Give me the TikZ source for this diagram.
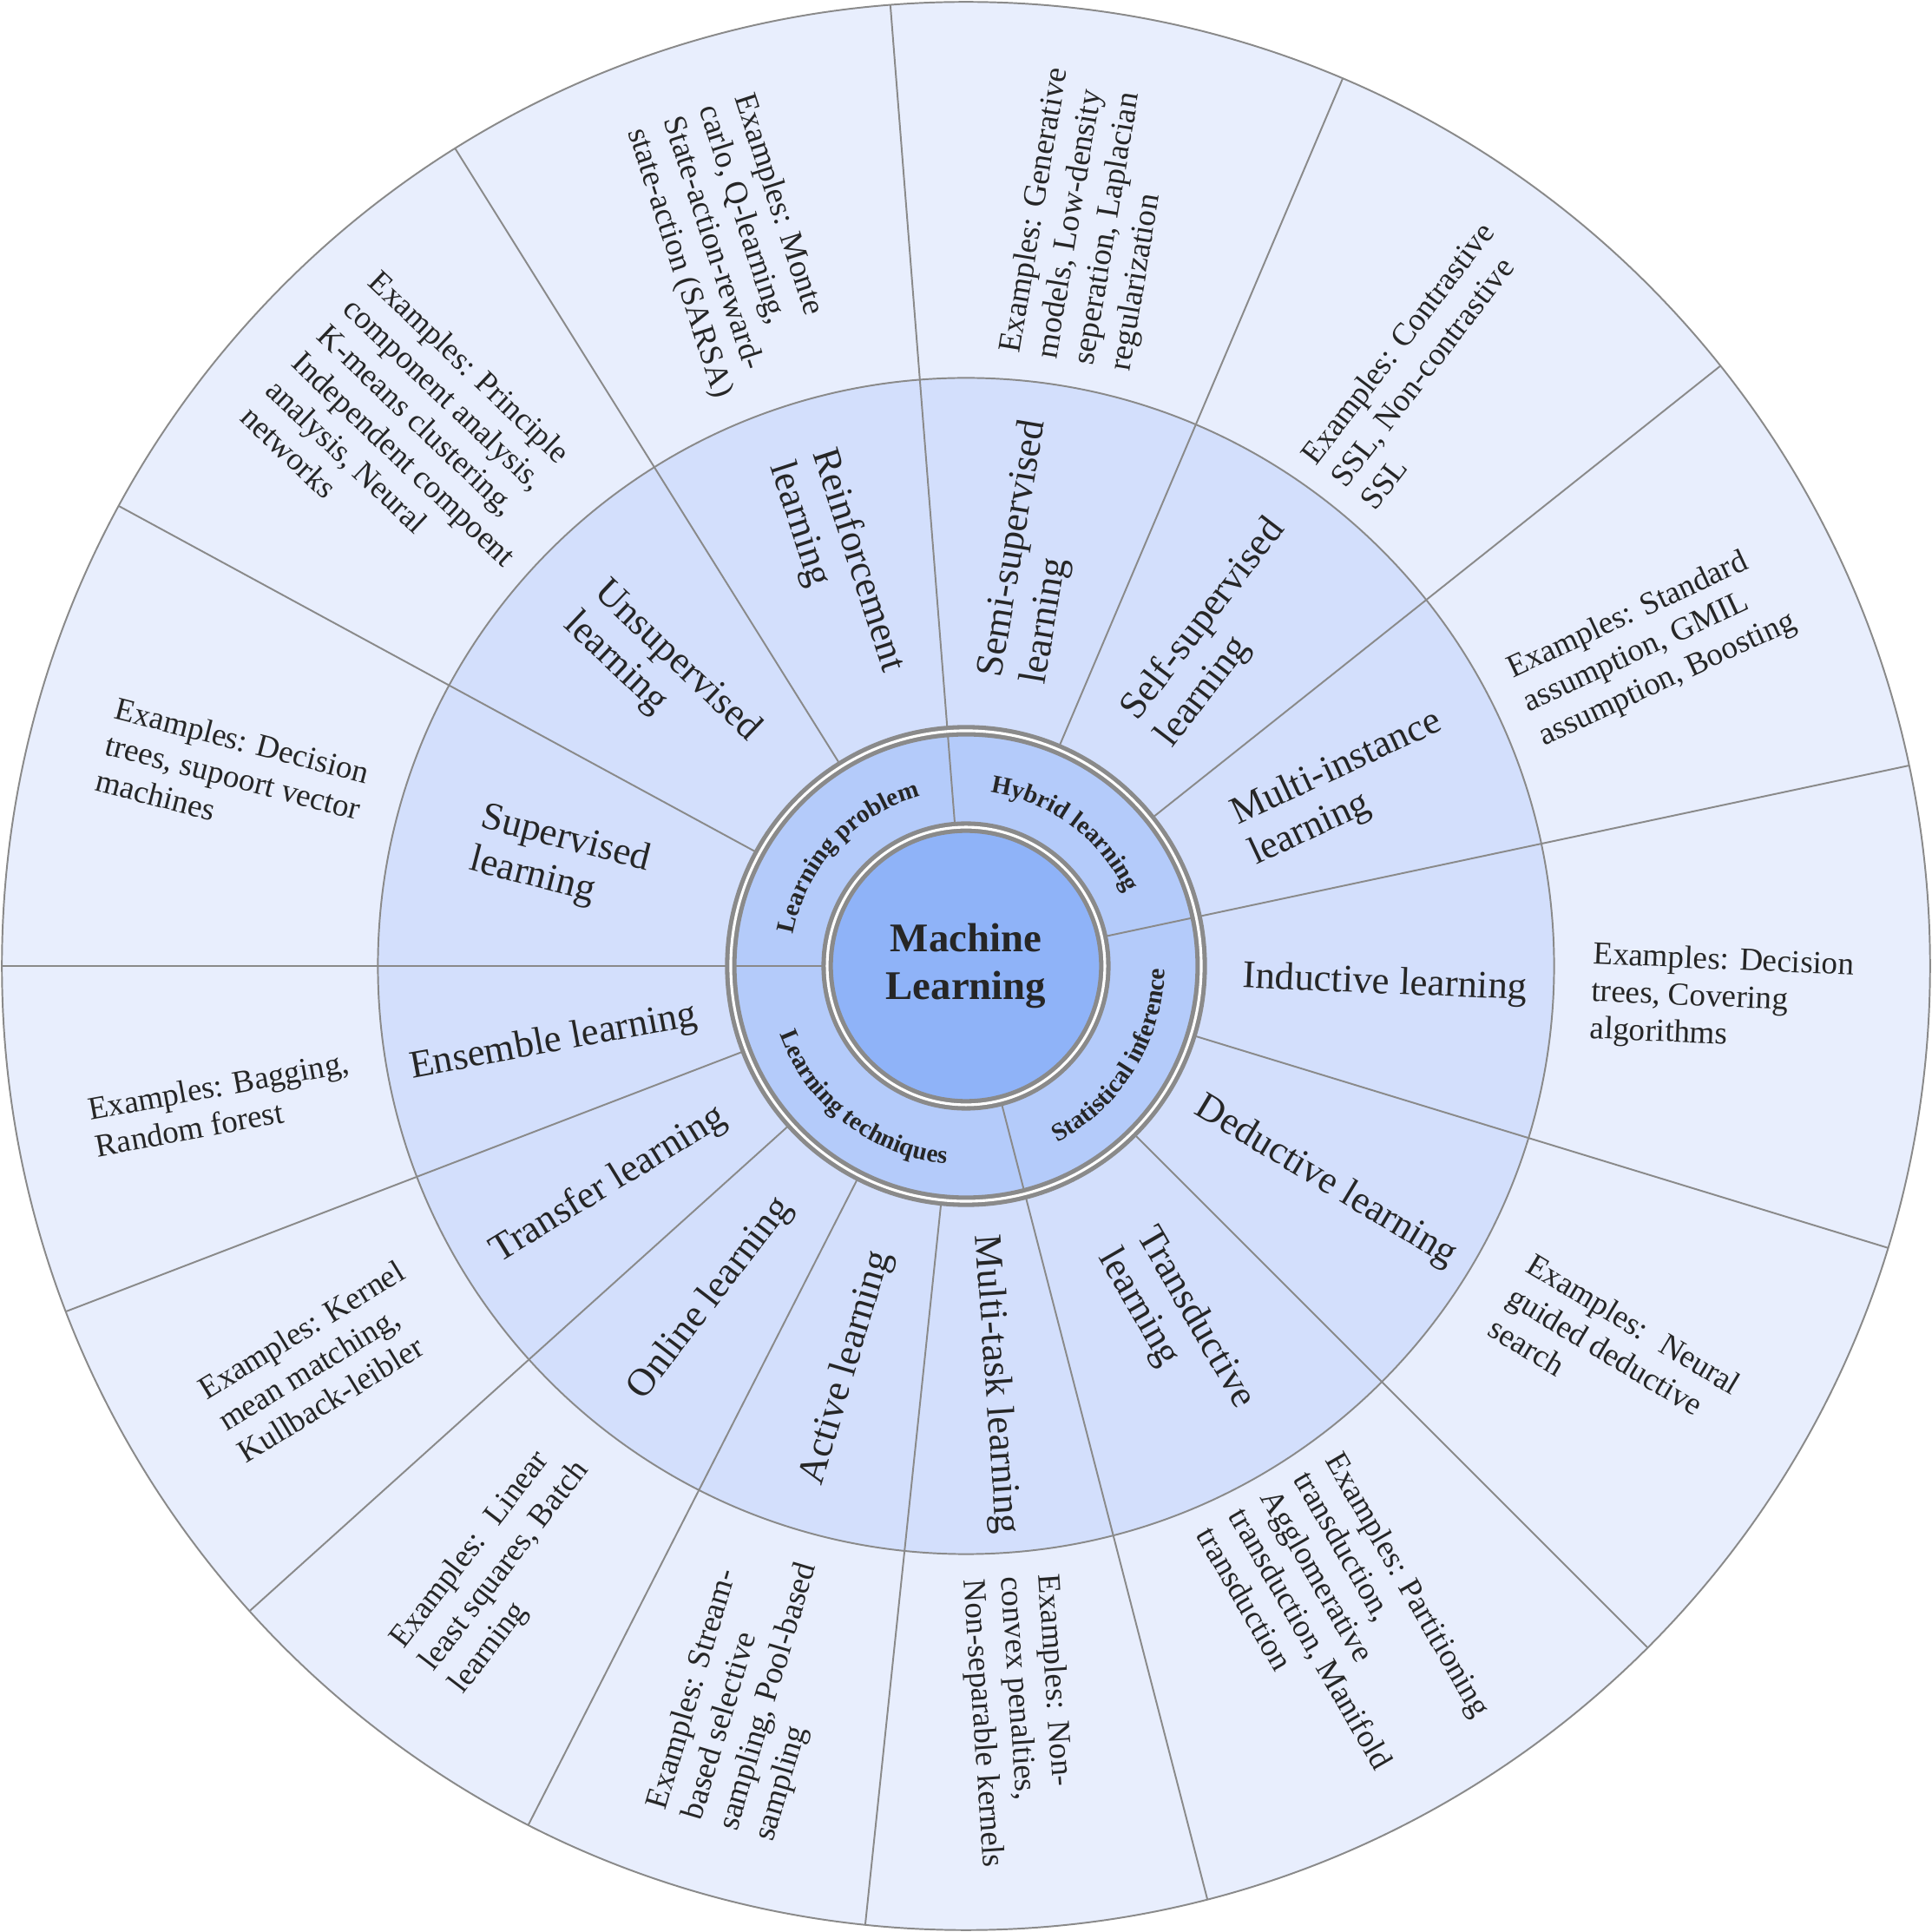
\documentclass[tikz,border=0pt]{standalone}
\usepackage{fontspec}
\setmainfont{Liberation Serif}
\usetikzlibrary{decorations.text}
\definecolor{outerfill}{HTML}{E8EEFD}
\definecolor{midfill}{HTML}{D3DFFC}
\definecolor{catfill}{HTML}{B4CBFA}
\definecolor{corefill}{HTML}{8FB3F8}
\definecolor{edge}{HTML}{8A8A8A}
\definecolor{ink}{HTML}{262626}
\tikzset{
  spoke/.style={draw=edge, line width=0.5pt},
  ringedge/.style={draw=edge, line width=1.3pt, double=white, double distance=0.8pt},
  midlabel/.style={text=ink, align=left, font=\fontsize{11.5}{13}\selectfont},
  exlabel/.style={text=ink, align=left, font=\fontsize{9.5}{11}\selectfont},
  catlabel/.style={decorate, decoration={text along path, text align=center, text color=ink}}
}
\begin{document}
\begin{tikzpicture}
  \useasboundingbox (-10.02,-10.02) rectangle (10.02,10.02);
  % rings
  \fill[outerfill, draw=edge, line width=0.5pt] (0,0) circle (10);
  \fill[midfill] (0,0) circle (6.1);
  \draw[spoke] (0,0) circle (6.1);
  \foreach \a in {94.5,122,151.5,180,201,222,243,264,284.5,315,343,12,38.5,67}
    \draw[spoke] (\a:2.44) -- (\a:10);
  \fill[catfill] (0,0) circle (2.44);
  \foreach \a in {94.5,180,284.5,12}
    \draw[spoke] (\a:1.44) -- (\a:2.44);
  \draw[ringedge] (0,0) circle (2.44);
  \draw[ringedge, fill=corefill] (0,0) circle (1.44);
  \node (core) [text=ink, align=center, font=\bfseries\fontsize{12}{14}\selectfont] at (0,0) {Machine\\Learning};
  % category ring
  \path[catlabel, decoration={text={|\bfseries\fontsize{7.5}{9}\selectfont|Learning problem}}] (180:1.82) arc (180:94.5:1.82);
  \path[catlabel, decoration={text={|\bfseries\fontsize{7.5}{9}\selectfont|Hybrid learning}}] (94.5:1.82) arc (94.5:12:1.82);
  \path[catlabel, decoration={text={|\bfseries\fontsize{7.5}{9}\selectfont|Statistical inference}}] (-75.5:2.06) arc (-75.5:12:2.06);
  \path[catlabel, decoration={text={|\bfseries\fontsize{7.5}{9}\selectfont|Learning techniques}}] (180:2.06) arc (180:284.5:2.06);
  % methods and examples
  \foreach \a/\m/\ex [count=\i] in {
    165.5/{Supervised\\learning}/{Examples: Decision\\trees, supoort vector\\machines},
    136.5/{Unsupervised\\learning}/{Examples: Principle\\component analysis,\\K-means clustering,\\Independent compoent\\analysis, Neural\\networks},
    108/{Reinforcement\\learning}/{Examples: Monte\\carlo, Q-learning,\\State-action-reward-\\state-action (SARSA)},
    80.5/{Semi-supervised\\learning}/{Examples: Generative\\models, Low-density\\seperation, Laplacian\\regularization},
    52.5/{Self-supervised\\learning}/{Examples: Contrastive\\SSL, Non-contrastive\\SSL},
    25/{Multi-instance\\learning}/{Examples: Standard\\assumption, GMIL\\assumption, Boosting},
    -2.5/{Inductive learning}/{Examples: Decision\\trees, Covering\\algorithms},
    -31/{Deductive learning}/{Examples:~ Neural\\guided deductive\\search},
    -60/{Transductive\\learning}/{Examples: Partitioning\\transduction,\\Agglomerative\\transduction, Manifold\\transduction},
    -86/{Multi-task learning}/{Examples: Non-\\convex penalties,\\Non-separable kernels},
    -106.5/{Active learning}/{Examples: Stream-\\based selective\\sampling, Pool-based\\sampling},
    -127.5/{Online learning}/{Examples:~ Linear\\least squares, Batch\\learning},
    -148.5/{Transfer learning}/{Examples: Kernel\\mean matching,\\Kullback-leibler},
    -169.5/{Ensemble learning}/{Examples: Bagging,\\Random forest}} {
    \pgfmathsetmacro\rot{ifthenelse(cos(\a)<0,\a-180,\a)}
    \node (m\i) [midlabel, rotate=\rot] at (\a:4.35) {\m};
    \node (ex\i) [exlabel, rotate=\rot] at (\a:7.85) {\ex};
  }
\end{tikzpicture}
\end{document}
